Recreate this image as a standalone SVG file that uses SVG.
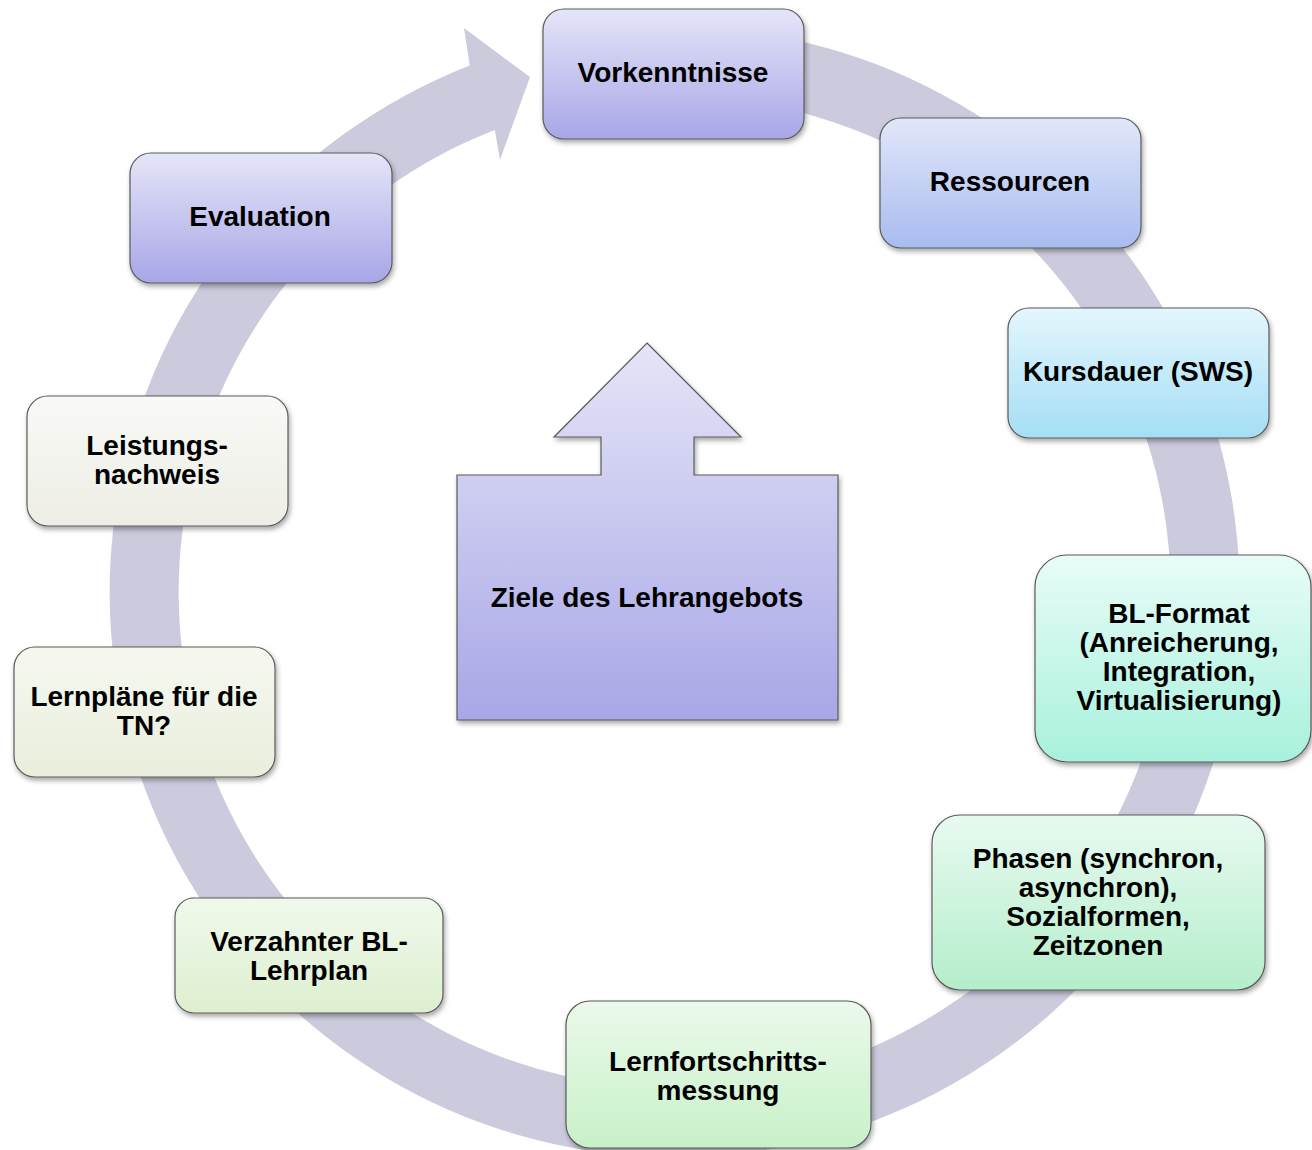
<svg xmlns="http://www.w3.org/2000/svg" width="1312" height="1150" viewBox="0 0 1312 1150">
<defs>
<style>
.node{stroke:#5a5a5a;stroke-width:1.2;filter:url(#sh);}
.t{font-family:"Liberation Sans",Arial,sans-serif;font-weight:bold;font-size:28px;fill:#000;text-anchor:middle;}
.ring{fill:#cccbdd;}
</style>
<filter id="sh" x="-10%" y="-10%" width="125%" height="130%">
<feDropShadow dx="1.5" dy="3" stdDeviation="2.5" flood-color="#000" flood-opacity="0.35"/>
</filter>
<linearGradient id="gLav" x1="0" y1="0" x2="0" y2="1"><stop offset="0" stop-color="#e5e5f8"/><stop offset="1" stop-color="#a8a6e6"/></linearGradient>
<linearGradient id="gBlue" x1="0" y1="0" x2="0" y2="1"><stop offset="0" stop-color="#e1e7f9"/><stop offset="1" stop-color="#a9bcf0"/></linearGradient>
<linearGradient id="gCyan" x1="0" y1="0" x2="0" y2="1"><stop offset="0" stop-color="#e4f6fd"/><stop offset="1" stop-color="#a4def5"/></linearGradient>
<linearGradient id="gAqua" x1="0" y1="0" x2="0" y2="1"><stop offset="0" stop-color="#e8fcf8"/><stop offset="1" stop-color="#a8f1dc"/></linearGradient>
<linearGradient id="gMint" x1="0" y1="0" x2="0" y2="1"><stop offset="0" stop-color="#e8faf0"/><stop offset="1" stop-color="#b4eecb"/></linearGradient>
<linearGradient id="gGreen" x1="0" y1="0" x2="0" y2="1"><stop offset="0" stop-color="#ebf9eb"/><stop offset="1" stop-color="#c8f1c8"/></linearGradient>
<linearGradient id="gYG" x1="0" y1="0" x2="0" y2="1"><stop offset="0" stop-color="#f0f9ec"/><stop offset="1" stop-color="#ddefcf"/></linearGradient>
<linearGradient id="gPale" x1="0" y1="0" x2="0" y2="1"><stop offset="0" stop-color="#f6f8f0"/><stop offset="1" stop-color="#e9eedc"/></linearGradient>
<linearGradient id="gWhite" x1="0" y1="0" x2="0" y2="1"><stop offset="0" stop-color="#f9f9f6"/><stop offset="1" stop-color="#eeeee6"/></linearGradient>
</defs>
<rect width="1312" height="1150" fill="#ffffff"/>

<g id="connectors">
<path class="ring" d="M557.5,39.4 A565,565 0 1 1 469.7,65.6 L464,28 L530,77 L500,160 L494.8,129.9 A496,496 0 1 0 571.9,106.9 Z"/>
</g>

<g id="ziele">
<path class="node" fill="url(#gLav)" stroke="#808080" d="M647,343 L741,437 L694,437 L694,475 L838,475 L838,720 L457,720 L457,475 L601,475 L601,437 L554,437 Z"/>
<text class="t" x="647" y="607">Ziele des Lehrangebots</text>
</g>

<g id="vorkenntnisse">
<rect class="node" x="543" y="9" width="261" height="130" rx="21" fill="url(#gLav)"/>
<text class="t" x="673" y="82">Vorkenntnisse</text>
</g>

<g id="ressourcen">
<rect class="node" x="880" y="118" width="261" height="130" rx="21" fill="url(#gBlue)"/>
<text class="t" x="1010" y="191">Ressourcen</text>
</g>

<g id="kursdauer">
<rect class="node" x="1008" y="308" width="261" height="130" rx="21" fill="url(#gCyan)"/>
<text class="t" x="1138" y="381">Kursdauer (SWS)</text>
</g>

<g id="blformat">
<rect class="node" x="1035" y="555" width="276" height="207" rx="32" fill="url(#gAqua)"/>
<text class="t" x="1179" y="623">BL-Format</text>
<text class="t" x="1179" y="652">(Anreicherung,</text>
<text class="t" x="1179" y="681">Integration,</text>
<text class="t" x="1179" y="710">Virtualisierung)</text>
</g>

<g id="phasen">
<rect class="node" x="932" y="815" width="333" height="175" rx="28" fill="url(#gMint)"/>
<text class="t" x="1098" y="868">Phasen (synchron,</text>
<text class="t" x="1098" y="897">asynchron),</text>
<text class="t" x="1098" y="926">Sozialformen,</text>
<text class="t" x="1098" y="955">Zeitzonen</text>
</g>

<g id="lernfortschritt">
<rect class="node" x="566" y="1001" width="305" height="147" rx="24" fill="url(#gGreen)"/>
<text class="t" x="718" y="1071">Lernfortschritts-</text>
<text class="t" x="718" y="1100">messung</text>
</g>

<g id="verzahnter">
<rect class="node" x="175" y="898" width="268" height="115" rx="19" fill="url(#gYG)"/>
<text class="t" x="309" y="951">Verzahnter BL-</text>
<text class="t" x="309" y="980">Lehrplan</text>
</g>

<g id="lernplaene">
<rect class="node" x="14" y="647" width="261" height="130" rx="21" fill="url(#gPale)"/>
<text class="t" x="144" y="706">Lernpläne für die</text>
<text class="t" x="144" y="735">TN?</text>
</g>

<g id="leistungsnachweis">
<rect class="node" x="27" y="396" width="261" height="130" rx="21" fill="url(#gWhite)"/>
<text class="t" x="157" y="455">Leistungs-</text>
<text class="t" x="157" y="484">nachweis</text>
</g>

<g id="evaluation">
<rect class="node" x="130" y="153" width="262" height="130" rx="21" fill="url(#gLav)"/>
<text class="t" x="260" y="226">Evaluation</text>
</g>
</svg>
